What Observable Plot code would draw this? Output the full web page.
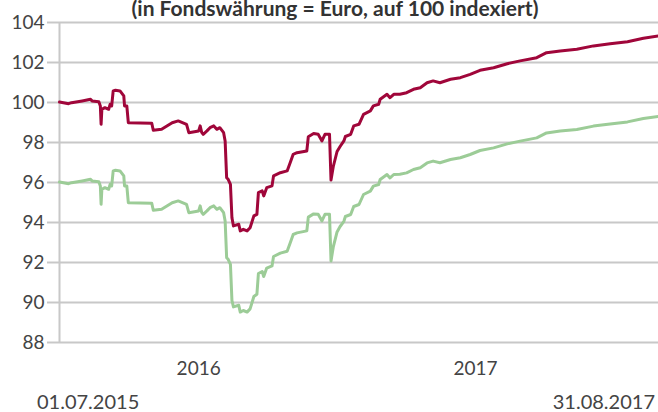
<!DOCTYPE html>
<html>
<head>
<meta charset="utf-8">
<script src="https://cdn.jsdelivr.net/npm/d3@7"></script>
<script src="https://cdn.jsdelivr.net/npm/@observablehq/plot@0.6"></script>
<style>
  body { margin: 0; background: #fff; }
  #wrap { position: relative; width: 658px; height: 412px; overflow: hidden; font-family: Lato, sans-serif; color: #444; }
  #title { position: absolute; left: 0; width: 670px; top: 0px; line-height: 16px; text-align: center; font-weight: bold; font-size: 21px; color: #333; white-space: nowrap; }
  .datelab { position: absolute; top: 393px; line-height: 16px; font-size: 20px; color: #444; white-space: nowrap; }
  #chart { position: absolute; left: 0; top: 0; }
</style>
</head>
<body>
<div id="wrap">
  <div id="chart"></div>
  <div id="title"></div>
  <div class="datelab" id="startlab" style="left:37px"></div>
  <div class="datelab" id="endlab" style="right:3px"></div>
</div>
<script>
const titleText = "(in Fondswährung = Euro, auf 100 indexiert)";
const startLabel = "01.07.2015";
const endLabel = "31.08.2017";

const dates = [
  "2015-07-01","2015-07-13","2015-07-17","2015-07-31","2015-08-11","2015-08-13","2015-08-22","2015-08-24","2015-08-25","2015-08-26",
  "2015-08-30","2015-09-04","2015-09-06","2015-09-08","2015-09-10","2015-09-13","2015-09-19","2015-09-24","2015-09-25","2015-09-28",
  "2015-09-30","2015-10-31","2015-11-02","2015-11-13","2015-11-27","2015-12-05","2015-12-16","2015-12-19","2016-01-01","2016-01-03",
  "2016-01-05","2016-01-07","2016-01-12","2016-01-16","2016-01-21","2016-01-25","2016-01-29","2016-02-03","2016-02-05","2016-02-07",
  "2016-02-09","2016-02-12","2016-02-14","2016-02-16","2016-02-23","2016-02-25","2016-02-29","2016-03-05","2016-03-09","2016-03-14",
  "2016-03-18","2016-03-20","2016-03-25","2016-03-27","2016-03-31","2016-04-07","2016-04-09","2016-04-18","2016-04-27","2016-05-01",
  "2016-05-05","2016-05-10","2016-05-23","2016-05-25","2016-06-01","2016-06-07","2016-06-12","2016-06-16","2016-06-22","2016-06-24",
  "2016-06-27","2016-07-02","2016-07-06","2016-07-11","2016-07-13","2016-07-20","2016-07-24","2016-07-31","2016-08-06","2016-08-15",
  "2016-08-19","2016-08-26","2016-08-28","2016-09-06","2016-09-10","2016-09-15","2016-09-23","2016-10-02","2016-10-11","2016-10-20",
  "2016-10-29","2016-11-06","2016-11-15","2016-11-29","2016-12-12","2016-12-25","2017-01-07","2017-01-25","2017-02-12","2017-03-01",
  "2017-03-23","2017-04-05","2017-04-23","2017-05-15","2017-06-06","2017-06-28","2017-07-21","2017-08-11","2017-08-31"
];

const fundRed = [
  100.02, 99.94, 99.99, 100.08, 100.16, 100.08, 100.04, 99.83, 98.91, 99.66,
  99.74, 99.66, 99.91, 99.83, 100.58, 100.61, 100.58, 100.33, 99.83, 99.83,
  98.99, 98.96, 98.61, 98.66, 98.99, 99.08, 98.91, 98.49, 98.58, 98.83,
  98.51, 98.41, 98.58, 98.74, 98.83, 98.66, 98.74, 98.49, 98.08, 96.24,
  96.16, 95.91, 94.24, 93.83, 93.91, 93.58, 93.66, 93.58, 93.74, 94.33,
  94.41, 95.49, 95.58, 95.33, 95.74, 95.83, 96.33, 96.49, 96.58, 96.99,
  97.41, 97.49, 97.58, 98.29, 98.45, 98.41, 98.08, 98.41, 98.41, 96.12,
  96.8, 97.55, 97.8, 98.08, 98.3, 98.41, 98.83, 98.91, 99.41, 99.58,
  99.83, 99.91, 100.16, 100.41, 100.24, 100.41, 100.41, 100.49, 100.66, 100.74,
  100.99, 101.08, 100.99, 101.16, 101.24, 101.41, 101.61, 101.74, 101.94, 102.08,
  102.24, 102.49, 102.58, 102.66, 102.83, 102.94, 103.04, 103.21, 103.33
];

const fundGreen = [
  96.02, 95.94, 95.99, 96.08, 96.16, 96.08, 96.04, 95.83, 94.91, 95.66,
  95.74, 95.66, 95.91, 95.83, 96.58, 96.61, 96.58, 96.33, 95.83, 95.83,
  94.99, 94.96, 94.61, 94.66, 94.99, 95.08, 94.91, 94.49, 94.58, 94.83,
  94.51, 94.41, 94.58, 94.74, 94.83, 94.66, 94.74, 94.49, 94.08, 92.24,
  92.16, 91.91, 90.1, 89.78, 89.86, 89.52, 89.6, 89.52, 89.68, 90.3,
  90.41, 91.45, 91.55, 91.3, 91.72, 91.83, 92.3, 92.47, 92.56, 92.97,
  93.4, 93.48, 93.58, 94.27, 94.43, 94.41, 94.08, 94.41, 94.41, 92.08,
  92.78, 93.53, 93.8, 94.06, 94.3, 94.4, 94.8, 94.9, 95.4, 95.57,
  95.82, 95.9, 96.15, 96.4, 96.23, 96.4, 96.41, 96.48, 96.65, 96.74,
  96.98, 97.07, 96.99, 97.15, 97.24, 97.4, 97.6, 97.73, 97.93, 98.07,
  98.23, 98.48, 98.57, 98.65, 98.82, 98.93, 99.03, 99.2, 99.3
];

const yTicks = [88, 90, 92, 94, 96, 98, 100, 102, 104];
const yearTicks = ["2016-01-01", "2017-01-01"];
const xDomain = ["2015-07-01", "2017-08-31"];

document.getElementById("title").textContent = titleText;
document.getElementById("startlab").textContent = startLabel;
document.getElementById("endlab").textContent = endLabel;

const data = dates.map((d, i) => ({date: new Date(d), red: fundRed[i], green: fundGreen[i]}));
const xStart = new Date(xDomain[0]);

const chart = Plot.plot({
  width: 658,
  height: 412,
  marginTop: 22,
  marginBottom: 70,
  marginLeft: 59,
  marginRight: 0,
  style: {fontFamily: "Lato, sans-serif", fontSize: "19px", color: "#444", background: "transparent"},
  x: {type: "utc", domain: xDomain.map(d => new Date(d))},
  y: {domain: [88, 104]},
  marks: [
    Plot.gridY(yTicks, {stroke: "#c8c8c8", strokeOpacity: 1, strokeWidth: 2}),
    Plot.ruleX([xStart], {stroke: "#c8c8c8", strokeWidth: 2}),
    Plot.axisY(yTicks, {tickSize: 12, tickPadding: 3, stroke: "#c8c8c8", strokeWidth: 2, fill: "#444", fontSize: 19, label: null}),
    Plot.axisX(yearTicks.map(d => new Date(d)), {tickSize: 0, tickPadding: 19, tickFormat: d3.utcFormat("%Y"), fill: "#444", fontSize: 19, label: null}),
    Plot.lineY(data, {x: "date", y: "green", stroke: "#9ccc97", strokeWidth: 3}),
    Plot.lineY(data, {x: "date", y: "red", stroke: "#a0063a", strokeWidth: 3})
  ]
});
document.getElementById("chart").appendChild(chart);
</script>
</body>
</html>
